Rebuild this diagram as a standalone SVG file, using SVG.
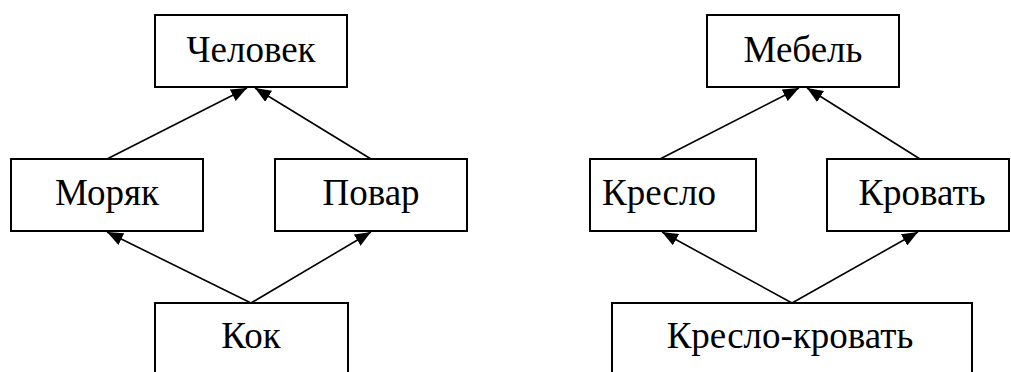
<svg xmlns="http://www.w3.org/2000/svg" width="1011" height="372" viewBox="0 0 1011 372">
  <style>
    .box { fill: #fff; stroke: #000; stroke-width: 2; }
    .lbl { font-family: "Liberation Serif", "Times New Roman", serif; font-size: 37px; fill: #000; text-anchor: middle; }
    .edge { stroke: #000; stroke-width: 1.6; fill: none; marker-end: url(#arrow); }
  </style>
  <defs>
    <marker id="arrow" markerUnits="userSpaceOnUse" markerWidth="16" markerHeight="13" refX="16" refY="6.5" orient="auto">
      <path d="M0,0 L16,6.5 L0,13 z" fill="#000"/>
    </marker>
  </defs>

  <!-- connectors -->
  <g id="connectors">
    <line class="edge" x1="107" y1="159" x2="247" y2="88"/>
    <line class="edge" x1="371" y1="159" x2="255" y2="88"/>
    <line class="edge" x1="251" y1="303" x2="107" y2="232"/>
    <line class="edge" x1="251" y1="303" x2="371" y2="232"/>
    <line class="edge" x1="660" y1="159" x2="799" y2="88"/>
    <line class="edge" x1="920" y1="159" x2="807" y2="88"/>
    <line class="edge" x1="792" y1="303" x2="662" y2="232"/>
    <line class="edge" x1="792" y1="303" x2="918" y2="232"/>
  </g>

  <!-- left hierarchy -->
  <g id="chelovek">
    <rect class="box" x="155" y="15" width="192" height="72"/>
    <text class="lbl" x="251" y="62">Человек</text>
  </g>
  <g id="moryak">
    <rect class="box" x="11" y="159" width="192" height="72"/>
    <text class="lbl" x="107" y="205">Моряк</text>
  </g>
  <g id="povar">
    <rect class="box" x="275" y="159" width="192" height="72"/>
    <text class="lbl" x="371" y="205">Повар</text>
  </g>
  <g id="kok">
    <rect class="box" x="155" y="303" width="193" height="80"/>
    <text class="lbl" x="251" y="348">Кок</text>
  </g>

  <!-- right hierarchy -->
  <g id="mebel">
    <rect class="box" x="707" y="15" width="192" height="72"/>
    <text class="lbl" x="803" y="62">Мебель</text>
  </g>
  <g id="kreslo">
    <rect class="box" x="590" y="159" width="166" height="72"/>
    <text class="lbl" x="659" y="205">Кресло</text>
  </g>
  <g id="krovat">
    <rect class="box" x="827" y="159" width="182" height="72"/>
    <text class="lbl" x="922" y="205">Кровать</text>
  </g>
  <g id="kreslo-krovat">
    <rect class="box" x="612" y="303" width="360" height="80"/>
    <text class="lbl" x="790" y="348">Кресло-кровать</text>
  </g>
</svg>
